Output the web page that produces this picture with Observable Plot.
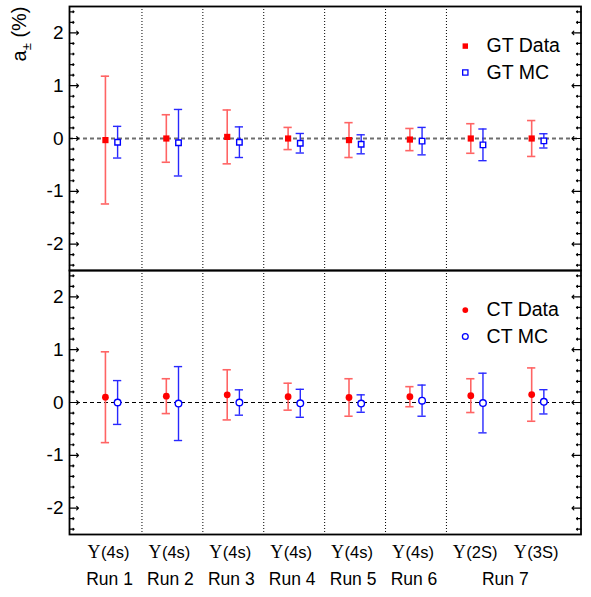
<!DOCTYPE html>
<html>
<head>
<meta charset="utf-8">
<script src="https://cdn.jsdelivr.net/npm/d3@7"></script>
<script src="https://cdn.jsdelivr.net/npm/@observablehq/plot@0.6"></script>
<style>
  html, body { margin: 0; padding: 0; background: #fff; }
  #chart { width: 591px; height: 597px; }
</style>
</head>
<body>
<div id="chart"></div>
<script>
// ---- data ----
const states = ["(4s)", "(4s)", "(4s)", "(4s)", "(4s)", "(4s)", "(2S)", "(3S)"];
const runLabels = ["Run 1", "Run 2", "Run 3", "Run 4", "Run 5", "Run 6", "Run 7"];
const runPositions = [0, 1, 2, 3, 4, 5, 6.5];

const gtDataVal = [-0.03, 0.0, 0.03, 0.0, -0.03, -0.02, 0.0, 0.0];
const gtDataErr = [1.21, 0.45, 0.51, 0.21, 0.33, 0.21, 0.28, 0.34];
const gtMcVal   = [-0.07, -0.08, -0.07, -0.09, -0.11, -0.05, -0.12, -0.045];
const gtMcErr   = [0.30, 0.63, 0.29, 0.185, 0.18, 0.26, 0.30, 0.135];

const ctDataVal = [0.10, 0.12, 0.145, 0.11, 0.095, 0.11, 0.13, 0.15];
const ctDataErr = [0.86, 0.33, 0.475, 0.255, 0.355, 0.19, 0.32, 0.505];
const ctMcVal   = [0.0, -0.02, 0.0, -0.015, -0.02, 0.035, -0.01, 0.013];
const ctMcErr   = [0.415, 0.70, 0.24, 0.265, 0.165, 0.295, 0.565, 0.23];

const yMajorTicks = [-2, -1, 0, 1, 2];
const dividers = [0.5, 1.5, 2.5, 3.5, 4.5, 5.5];
const legendGT = ["GT Data", "GT MC"];
const legendCT = ["CT Data", "CT MC"];

// ---- build tables ----
const OFF = 0.1;
function series(vals, errs, panel, kind) {
  return vals.map((v, i) => ({panel, kind, x: i + (kind === "data" ? -OFF : OFF), v, lo: v - errs[i], hi: v + errs[i]}));
}
const gtData = series(gtDataVal, gtDataErr, "GT", "data");
const gtMc = series(gtMcVal, gtMcErr, "GT", "mc");
const ctData = series(ctDataVal, ctDataErr, "CT", "data");
const ctMc = series(ctMcVal, ctMcErr, "CT", "mc");
const allData = gtData.concat(ctData);
const allMc = gtMc.concat(ctMc);

const minorTicks = d3.range(-24, 25, 2).map(d => d / 10).filter(d => Math.abs(d % 1) > 1e-9);
const CAP = 0.068;
const RED = "#ff0000", REDBAR = "#ff6464", BLUE = "#0000ff", BLUEBAR = "#2828ff";

const legend = [
  {panel: "GT", label: legendGT[0], kind: "data", y: 1.75},
  {panel: "GT", label: legendGT[1], kind: "mc", y: 1.25},
  {panel: "CT", label: legendCT[0], kind: "data", y: 1.75},
  {panel: "CT", label: legendCT[1], kind: "mc", y: 1.25}
];
const LX = 5.81, LTX = 6.16;

const idx = d3.range(states.length);

const plot = Plot.plot({
  width: 591,
  height: 597,
  marginLeft: 69,
  marginRight: 10.5,
  marginTop: 5,
  marginBottom: 62.5,
  style: {fontFamily: "'Liberation Sans', Arial, sans-serif", background: "white"},
  x: {domain: [-0.69, 7.71], axis: null},
  y: {domain: [-2.5, 2.5], axis: null},
  fy: {domain: ["GT", "CT"], padding: 0, axis: null},
  marks: [
    Plot.ruleX(dividers, {stroke: "#000", strokeWidth: 1, strokeDasharray: "1,2"}),
    Plot.ruleY([{panel: "GT"}], {y: () => 0, fy: "panel", stroke: "#6e6e6e", strokeWidth: 2, strokeDasharray: "4,3"}),
    Plot.ruleY([{panel: "CT"}], {y: () => 0, fy: "panel", stroke: "#000", strokeWidth: 1, strokeDasharray: "4,3"}),
    Plot.axisY(yMajorTicks, {anchor: "left", tickSize: 0, tickPadding: 6, fontSize: 19, label: null, tickFormat: d => d}),
    Plot.vector(yMajorTicks, {y: d => d, frameAnchor: "left", rotate: 90, length: 9, anchor: "start", stroke: "#000", strokeWidth: 1.2}),
    Plot.vector(minorTicks, {y: d => d, frameAnchor: "left", rotate: 90, length: 4.5, anchor: "start", stroke: "#000", strokeWidth: 1.2}),
    Plot.vector(yMajorTicks, {y: d => d, frameAnchor: "right", rotate: -90, length: 9, anchor: "start", stroke: "#000", strokeWidth: 1.2}),
    Plot.vector(minorTicks, {y: d => d, frameAnchor: "right", rotate: -90, length: 4.5, anchor: "start", stroke: "#000", strokeWidth: 1.2}),
    Plot.ruleX(allData, {x: "x", y1: "lo", y2: "hi", fy: "panel", stroke: REDBAR, strokeWidth: 1.6}),
    Plot.ruleY(allData, {y: "hi", x1: d => d.x - CAP, x2: d => d.x + CAP, fy: "panel", stroke: REDBAR, strokeWidth: 1.6}),
    Plot.ruleY(allData, {y: "lo", x1: d => d.x - CAP, x2: d => d.x + CAP, fy: "panel", stroke: REDBAR, strokeWidth: 1.6}),
    Plot.ruleX(allMc, {x: "x", y1: "lo", y2: "hi", fy: "panel", stroke: BLUEBAR, strokeWidth: 1.4}),
    Plot.ruleY(allMc, {y: "hi", x1: d => d.x - CAP, x2: d => d.x + CAP, fy: "panel", stroke: BLUEBAR, strokeWidth: 1.4}),
    Plot.ruleY(allMc, {y: "lo", x1: d => d.x - CAP, x2: d => d.x + CAP, fy: "panel", stroke: BLUEBAR, strokeWidth: 1.4}),
    Plot.dot(gtData, {x: "x", y: "v", fy: "panel", symbol: "square", r: 3.5, fill: RED, stroke: "none"}),
    Plot.dot(gtMc, {x: "x", y: "v", fy: "panel", symbol: "square", r: 3.1, fill: "white", stroke: BLUE, strokeWidth: 1.4}),
    Plot.dot(ctData, {x: "x", y: "v", fy: "panel", symbol: "circle", r: 3.4, fill: RED, stroke: "none"}),
    Plot.dot(ctMc, {x: "x", y: "v", fy: "panel", symbol: "circle", r: 3.3, fill: "white", stroke: BLUE, strokeWidth: 1.4}),
    Plot.dot(legend.filter(d => d.panel === "GT"), {x: () => LX, y: "y", fy: "panel", symbol: "square",
      r: d => d.kind === "data" ? 3.0 : 2.8,
      fill: d => d.kind === "data" ? RED : "white", stroke: d => d.kind === "data" ? "none" : BLUE, strokeWidth: 1.3}),
    Plot.dot(legend.filter(d => d.panel === "CT"), {x: () => LX, y: "y", fy: "panel", symbol: "circle",
      r: 2.9,
      fill: d => d.kind === "data" ? RED : "white", stroke: d => d.kind === "data" ? "none" : BLUE, strokeWidth: 1.3}),
    Plot.text(legend, {x: () => LTX, y: "y", fy: "panel", text: "label", textAnchor: "start", fontSize: 19.5, fill: "#000"}),
    Plot.text(idx, {x: i => i, fy: () => "CT", frameAnchor: "bottom", text: () => "\u03A5", textAnchor: "end", lineAnchor: "bottom",
      dx: -11, dy: 23, fontSize: 18, fontFamily: "'Liberation Serif', 'Times New Roman', serif", fill: "#000"}),
    Plot.text(idx, {x: i => i, fy: () => "CT", frameAnchor: "bottom", text: i => states[i], textAnchor: "start", lineAnchor: "bottom",
      dx: -10.5, dy: 23, fontSize: 16.5, fill: "#000"}),
    Plot.text(runLabels, {x: (d, i) => runPositions[i], fy: () => "CT", frameAnchor: "bottom", text: d => d, textAnchor: "middle", lineAnchor: "bottom",
      dx: -2, dy: 50.5, fontSize: 17.5, fill: "#000"}),
    Plot.frame({stroke: "#000", strokeWidth: 1.8})
  ]
});

document.getElementById("chart").appendChild(plot);

// y axis title: a± (%)
const svg = d3.select(plot);
const t = svg.append("text")
  .attr("transform", "translate(26,6.5) rotate(-90)")
  .attr("text-anchor", "end")
  .style("font-size", "20px")
  .style("font-family", "'Liberation Sans', Arial, sans-serif")
  .attr("fill", "#000");
t.append("tspan").style("font-size", "20px").text("a");
t.append("tspan").style("font-size", "13px").attr("dy", 5).text("\u00B1");
t.append("tspan").style("font-size", "20px").attr("dy", -5).text(" (%)");
</script>
</body>
</html>
